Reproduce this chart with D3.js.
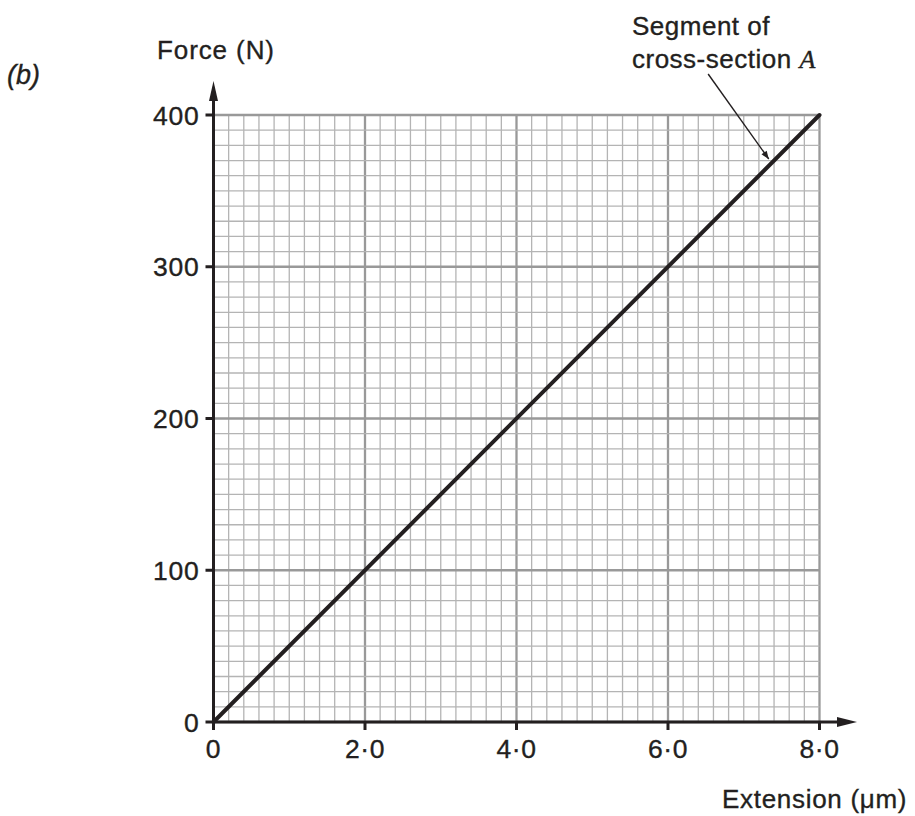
<!DOCTYPE html>
<html><head><meta charset="utf-8">
<script src="https://cdn.jsdelivr.net/npm/d3@7"></script>
<style>
body{margin:0;background:#fff;}
text{font-family:"Liberation Sans",Arial,sans-serif;fill:#231f20;stroke:#231f20;stroke-width:0.35px;}
</style></head>
<body><svg id="c" width="915" height="816"></svg>
<script>
const extension = [0, 8.0];
const force = [0, 400];
const xTickValues = [0, 2, 4, 6, 8];
const xTickLabels = ["0", "2·0", "4·0", "6·0", "8·0"];
const yTickValues = [0, 100, 200, 300, 400];
const yTickLabels = ["0", "100", "200", "300", "400"];
const annotationText = ["Segment of", "cross-section "];
const annotationFrom = {x: 6.53, y: 427};
const annotationTo = {x: 7.33, y: 371};

const svg = d3.select("#c");
const x = d3.scaleLinear().domain([0, 8]).range([213.5, 819.5]);
const y = d3.scaleLinear().domain([0, 400]).range([722, 115]);

const defs = svg.append("defs");
defs.append("marker").attr("id","ah").attr("viewBox","0 0 10 10").attr("refX",10).attr("refY",5)
  .attr("markerWidth",11).attr("markerHeight",8).attr("markerUnits","userSpaceOnUse").attr("orient","auto")
  .append("path").attr("d","M0,1 L10,5 L0,9 Z").attr("fill","#231f20");

// fine grid
const g = svg.append("g");
const fineX = d3.range(0, 41).map(i => i * 0.2);
const fineY = d3.range(0, 41).map(i => i * 10);
g.selectAll("line.fx").data(fineX).join("line")
  .attr("x1", d => x(d)).attr("x2", d => x(d)).attr("y1", y(0)).attr("y2", y(400))
  .attr("stroke", (d,i) => i % 10 === 0 ? "#999" : "#b4b4b4")
  .attr("stroke-width", (d,i) => i % 10 === 0 ? 2.3 : 1.3);
g.selectAll("line.fy").data(fineY).join("line")
  .attr("y1", d => y(d)).attr("y2", d => y(d)).attr("x1", x(0)).attr("x2", x(8))
  .attr("stroke", (d,i) => i % 10 === 0 ? "#999" : "#b4b4b4")
  .attr("stroke-width", (d,i) => i % 10 === 0 ? 2.3 : 1.3);

// axes
const ax = svg.append("g");
ax.append("line").attr("x1", x(0)).attr("x2", 840).attr("y1", y(0)).attr("y2", y(0))
  .attr("stroke","#231f20").attr("stroke-width",3);
ax.append("path").attr("d", `M857,${y(0)} L837,${y(0)-5} L837,${y(0)+5} Z`).attr("fill","#231f20");
ax.append("line").attr("x1", x(0)).attr("x2", x(0)).attr("y1", y(0)).attr("y2", 100)
  .attr("stroke","#231f20").attr("stroke-width",3);
ax.append("path").attr("d", `M${x(0)},81 L${x(0)-4.5},101 L${x(0)+4.5},101 Z`).attr("fill","#231f20");

// ticks
ax.selectAll("line.xt").data(xTickValues).join("line")
  .attr("x1", d => x(d)).attr("x2", d => x(d)).attr("y1", y(0)).attr("y2", y(0)+8)
  .attr("stroke","#231f20").attr("stroke-width",3);
ax.selectAll("line.yt").data(yTickValues).join("line")
  .attr("x1", x(0)-8).attr("x2", x(0)).attr("y1", d => y(d)).attr("y2", d => y(d))
  .attr("stroke","#231f20").attr("stroke-width",3);

ax.selectAll("text.xl").data(xTickValues).join("text")
  .attr("x", d => x(d)).attr("y", 758).attr("text-anchor","middle")
  .attr("font-size", 26.5).attr("letter-spacing", 0.6)
  .text((d,i) => xTickLabels[i]);
ax.selectAll("text.yl").data(yTickValues).join("text")
  .attr("x", x(0) - 14).attr("y", d => y(d) + 9.5).attr("text-anchor","end")
  .attr("font-size", 26.5).attr("letter-spacing", 0.8)
  .text((d,i) => yTickLabels[i]);

// data line
const line = d3.line().x(d => x(d[0])).y(d => y(d[1]));
svg.append("path").datum(extension.map((e,i) => [e, force[i]]))
  .attr("d", line).attr("fill","none").attr("stroke","#231f20").attr("stroke-width",4)
  .attr("stroke-linecap","round");

// annotation arrow
svg.append("line").attr("x1", x(annotationFrom.x)).attr("y1", y(annotationFrom.y))
  .attr("x2", x(annotationTo.x)).attr("y2", y(annotationTo.y))
  .attr("stroke","#231f20").attr("stroke-width",1.4).attr("marker-end","url(#ah)");

// labels
svg.append("text").attr("x",157).attr("y",58.5).attr("font-size",26).attr("letter-spacing",0.9).text("Force (N)");
svg.append("text").attr("x",722).attr("y",808).attr("font-size",26).attr("letter-spacing",0.7).text("Extension (μm)");
svg.append("text").attr("x",632).attr("y",35).attr("font-size",26).attr("letter-spacing",0.5).text(annotationText[0]);
const t2 = svg.append("text").attr("x",632).attr("y",68).attr("font-size",26).attr("letter-spacing",0.5).text(annotationText[1]);
t2.append("tspan").attr("font-family","'Liberation Serif','Times New Roman',serif").attr("font-style","italic").text("A");
svg.append("text").attr("x",7).attr("y",84).attr("font-size",27)
  .attr("font-family","'DejaVu Sans',sans-serif").attr("font-style","italic").text("(b)");
</script></body></html>
